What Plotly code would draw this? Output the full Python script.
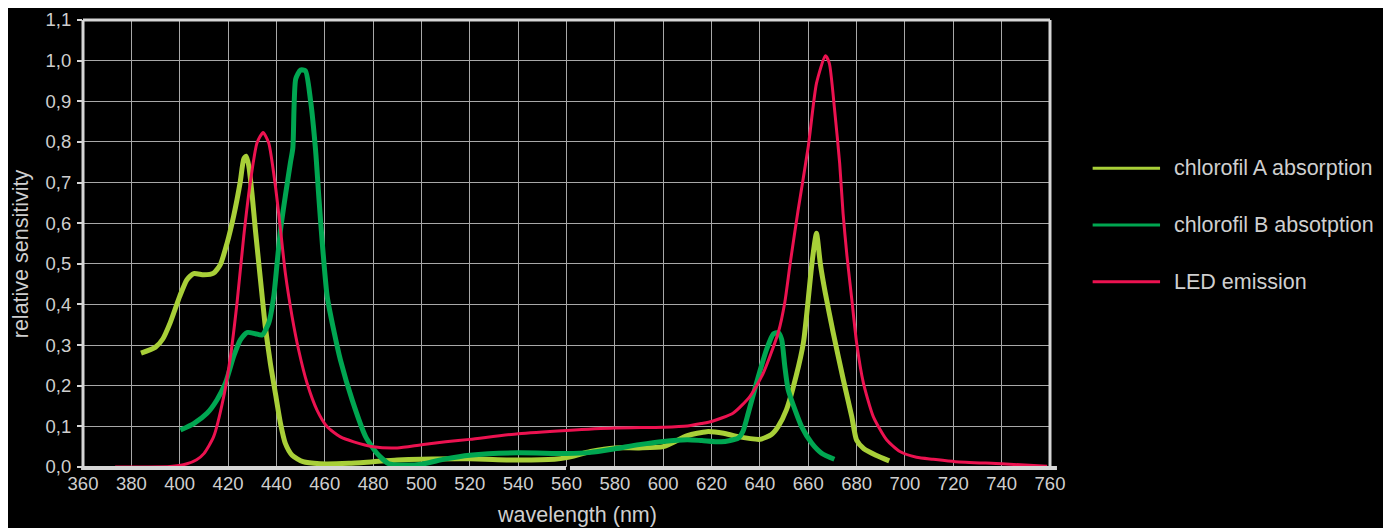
import plotly.graph_objects as go

# ---------------- data ----------------
series_names = ["chlorofil A absorption", "chlorofil B absotption", "LED emission"]
series_colors = ["#a8cf38", "#00a651", "#ec1250"]

chl_a_nm = [384, 390, 393, 396, 400, 403, 405.8, 410, 414, 416.8, 419.6, 422.3, 425,
            426.5, 427.5, 428.6, 430, 431.3, 432.7, 434.1, 435.4, 437.5, 439.6, 441.7,
            443.7, 446.5, 451, 458, 470, 480, 490, 500, 520, 540, 555, 560, 570, 580,
            590, 600, 610, 618, 625, 630, 640, 644.8, 647.6, 651, 655, 658, 660, 661.5,
            663.4, 665, 667, 670.3, 674.5, 678, 680, 683, 688, 693.5]
chl_a_val = [0.28, 0.295, 0.315, 0.354, 0.42, 0.461, 0.476, 0.473, 0.477, 0.498, 0.551,
             0.617, 0.70, 0.758, 0.765, 0.74, 0.667, 0.584, 0.502, 0.42, 0.346, 0.255,
             0.181, 0.107, 0.058, 0.029, 0.013, 0.008, 0.009, 0.013, 0.017, 0.019, 0.02,
             0.017, 0.019, 0.023, 0.038, 0.047, 0.047, 0.05, 0.077, 0.087, 0.083, 0.076,
             0.068, 0.08, 0.1, 0.141, 0.224, 0.306, 0.413, 0.5, 0.575, 0.5, 0.43, 0.331,
             0.215, 0.124, 0.066, 0.045, 0.029, 0.015]

chl_b_nm = [400.3, 405.8, 411.3, 415.4, 418.9, 422.3, 425.1, 427.9, 431.3, 434.1, 436.8,
            438.9, 440.3, 441.7, 443.7, 445.8, 446.8, 448, 450, 452, 454.1, 456.2, 457.6,
            459, 461, 463.7, 466.5, 471.4, 476.9, 481.7, 486.5, 492, 500, 510, 520, 540,
            560, 570, 580, 590, 600, 610, 616, 624, 631, 633, 635.2, 638.6, 642.8, 645.5,
            647.6, 649, 650.3, 651.7, 654.5, 657.2, 661.4, 665.5, 670.8]
chl_b_val = [0.091, 0.107, 0.132, 0.165, 0.206, 0.272, 0.313, 0.331, 0.328, 0.325, 0.354,
             0.42, 0.502, 0.584, 0.667, 0.749, 0.785, 0.955, 0.977, 0.975, 0.903, 0.78,
             0.66, 0.55, 0.42, 0.337, 0.263, 0.164, 0.075, 0.033, 0.008, 0.005, 0.007,
             0.02, 0.029, 0.035, 0.033, 0.036, 0.045, 0.055, 0.063, 0.067, 0.065, 0.062,
             0.071, 0.088, 0.133, 0.207, 0.29, 0.327, 0.331, 0.314, 0.248, 0.19, 0.141,
             0.1, 0.059, 0.034, 0.019]

led_nm = [373.3, 385, 396, 403, 407, 410, 414, 418.2, 421, 423.7, 426.5, 429.2, 432,
          434.5, 436.8, 439.6, 441.7, 443.7, 446.5, 449.2, 452.7, 456.8, 461, 466.5, 472,
          480, 490, 500, 510, 520, 540, 560, 580, 600, 610, 615.8, 620, 629, 635.9, 641.4,
          647.6, 650.3, 652.5, 655.8, 660, 663.4, 667.1, 668.7, 670.9, 673, 674.4, 676,
          678, 680, 682.8, 686.9, 692.4, 697.9, 704.8, 711.7, 720.8, 740, 758.8]
led_val = [0.0, 0.0, 0.001, 0.008, 0.018, 0.033, 0.074, 0.173, 0.272, 0.403, 0.568, 0.70,
           0.798, 0.823, 0.798, 0.691, 0.584, 0.477, 0.37, 0.288, 0.206, 0.14, 0.099, 0.074,
           0.062, 0.05, 0.047, 0.055, 0.062, 0.068, 0.082, 0.09, 0.096, 0.098, 0.101, 0.107,
           0.112, 0.133, 0.174, 0.231, 0.331, 0.405, 0.5, 0.632, 0.788, 0.944, 1.012, 0.994,
           0.879, 0.747, 0.624, 0.52, 0.413, 0.306, 0.207, 0.124, 0.067, 0.038, 0.024,
           0.019, 0.013, 0.008, 0.002]

x_tick_vals = [360, 380, 400, 420, 440, 460, 480, 500, 520, 540, 560, 580, 600, 620, 640,
               660, 680, 700, 720, 740, 760]
y_tick_vals = [0.0, 0.1, 0.2, 0.3, 0.4, 0.5, 0.6, 0.7, 0.8, 0.9, 1.0, 1.1]
y_tick_text = ["0,0", "0,1", "0,2", "0,3", "0,4", "0,5", "0,6", "0,7", "0,8", "0,9", "1,0", "1,1"]

x_title = "wavelength (nm)"
y_title = "relative sensitivity"

# ---------------- figure ----------------
TEXT = "#cfcfcf"
FRAME = "#d6d6d6"
GRID = "#a8a8a8"
REG = "Liberation Sans, Arial, sans-serif"

xs = [chl_a_nm, chl_b_nm, led_nm]
ys = [chl_a_val, chl_b_val, led_val]
widths = [5, 5, 3]

fig = go.Figure()
for name, color, x, y, w in zip(series_names, series_colors, xs, ys, widths):
    fig.add_trace(go.Scatter(x=x, y=y, mode="lines", name=name,
                             line=dict(color=color, width=w, shape="spline", smoothing=0.6),
                             showlegend=False, hoverinfo="x+y+name"))

shapes = []
# frame: left, top, right
shapes.append(dict(type="line", xref="paper", yref="paper", x0=0, x1=0, y0=0, y1=1,
                   line=dict(color=FRAME, width=3), layer="above"))
shapes.append(dict(type="line", xref="paper", yref="paper", x0=0, x1=1, y0=1, y1=1,
                   line=dict(color=FRAME, width=3), layer="above"))
shapes.append(dict(type="line", xref="paper", yref="paper", x0=1, x1=1, y0=0, y1=1,
                   line=dict(color=FRAME, width=3), layer="above"))
# bottom axis (two segments with the small gap near 560)
shapes.append(dict(type="line", xref="paper", yref="paper", x0=-0.002, x1=0.4995, y0=-0.002, y1=-0.002,
                   line=dict(color=FRAME, width=4), layer="above"))
shapes.append(dict(type="line", xref="paper", yref="paper", x0=0.5036, x1=1.0072, y0=-0.002, y1=-0.002,
                   line=dict(color=FRAME, width=4), layer="above"))

# manual legend
legend_y = [0.6682, 0.5414, 0.4145]
annotations = []
for name, color, ly in zip(series_names, series_colors, legend_y):
    shapes.append(dict(type="line", xref="paper", yref="paper", x0=1.0441, x1=1.1138,
                       y0=ly, y1=ly, line=dict(color=color, width=3)))
    annotations.append(dict(text=name, xref="paper", yref="paper", x=1.1259, y=ly,
                            xanchor="left", yanchor="middle", showarrow=False,
                            font=dict(family=REG, size=21.5, color=TEXT)))

annotations.append(dict(text=x_title, xref="paper", yref="paper", x=0.5109, y=-0.1074,
                        xanchor="center", yanchor="middle", showarrow=False,
                        font=dict(family=REG, size=21.5, color=TEXT)))
annotations.append(dict(text=y_title, xref="paper", yref="paper", x=-0.0641, y=0.476,
                        xanchor="center", yanchor="middle", showarrow=False, textangle=-90,
                        font=dict(family=REG, size=21.5, color=TEXT)))

# the page body has an 8px margin, so the figure is 8px smaller and its margins 8px tighter
fig.update_layout(
    width=1383, height=520,
    margin=dict(l=75, r=341, t=12, b=61, pad=0, autoexpand=False),
    paper_bgcolor="black", plot_bgcolor="black",
    shapes=shapes, annotations=annotations,
    xaxis=dict(range=[360, 760], tickvals=x_tick_vals, showgrid=True, gridcolor=GRID,
               gridwidth=1, zeroline=False, showline=False, ticks="", ticklabelstandoff=3,
               automargin=False,
               tickfont=dict(family=REG, size=18.5, color=TEXT)),
    yaxis=dict(range=[0, 1.1], tickvals=y_tick_vals, ticktext=y_tick_text, showgrid=True,
               gridcolor=GRID, gridwidth=1, zeroline=False, showline=False, ticks="outside",
               ticklen=5, tickwidth=2, tickcolor=FRAME, ticklabelstandoff=2,
               automargin=False,
               tickfont=dict(family=REG, size=18.5, color=TEXT)),
)

fig.write_html("out.html")
